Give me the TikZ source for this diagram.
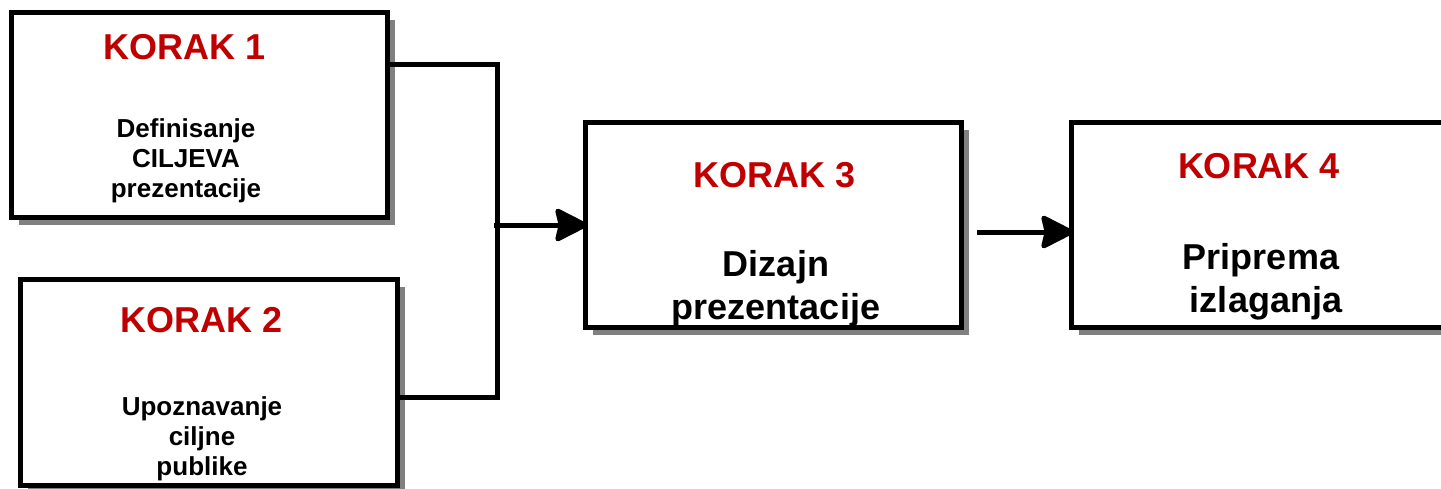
\documentclass[tikz,border=0pt]{standalone}
\usepackage{fontspec}
\setmainfont{Liberation Sans}
\usetikzlibrary{arrows.meta,shadows}
\definecolor{korakred}{HTML}{C00000}
\definecolor{shadowgray}{HTML}{808080}
\tikzset{
  stepbox/.style={draw=black, line width=5pt, fill=white, inner sep=0pt,
    drop shadow={shadow xshift=8pt, shadow yshift=-8pt, fill=shadowgray, opacity=1}},
  steptitle/.style={anchor=north, inner sep=0pt, text=korakred,
    font=\fontsize{36}{43}\selectfont\bfseries},
  smalltext/.style={anchor=north, inner sep=0pt, align=center,
    font=\fontsize{26}{30}\selectfont\bfseries},
  bigtext/.style={anchor=north, inner sep=0pt, align=center,
    font=\fontsize{36}{43}\selectfont\bfseries},
  conn/.style={line width=5pt, draw=black},
  arr/.style={conn, -{Stealth[length=36pt, width=36pt, inset=4pt, round]}}
}
\begin{document}
\begin{tikzpicture}[x=1pt, y=-1pt]
\useasboundingbox (0,0) rectangle (1441,488);
% boxes
\node[stepbox, minimum width=376pt, minimum height=205pt] (b1) at (199,114.5) {};
\node[stepbox, minimum width=377pt, minimum height=206pt] (b2) at (208.5,382) {};
\node[stepbox, minimum width=376pt, minimum height=205pt] (b3) at (773,224.5) {};
\node[stepbox, minimum width=379pt, minimum height=205pt] (b4) at (1260.5,224.5) {};
% texts
\node[steptitle] (t1) at (185,34) {KORAK 1};
\node[smalltext] (d1) at (186,118) {Definisanje\\CILJEVA\\prezentacije};
\node[steptitle] (t2) at (202,307) {KORAK 2};
\node[smalltext] (d2) at (202,396) {Upoznavanje\\ciljne\\publike};
\node[steptitle] (t3) at (775,162) {KORAK 3};
\node[bigtext] (d3) at (776,250) {Dizajn\\prezentacije};
\node[steptitle] (t4) at (1259,153) {KORAK 4};
\node[bigtext] (d4) at (1261,243) {Priprema\\\hspace*{10pt}izlaganja};
% connectors
\coordinate (jtop) at (497,64);
\coordinate (jbot) at (497,397);
\coordinate (jmid) at (494,225);
\coordinate (a2s) at (977,232);
\draw[conn] (b1.east |- jtop) -- (jtop) -- ([yshift=-2.5pt]jbot);
\draw[conn] (b2.east |- jbot) -- ([xshift=-2.5pt]jbot);
\draw[arr] (jmid) -- ([xshift=5pt]b3.west |- jmid);
\draw[arr] (a2s) -- ([xshift=5pt]b4.west |- a2s);
\end{tikzpicture}
\end{document}
